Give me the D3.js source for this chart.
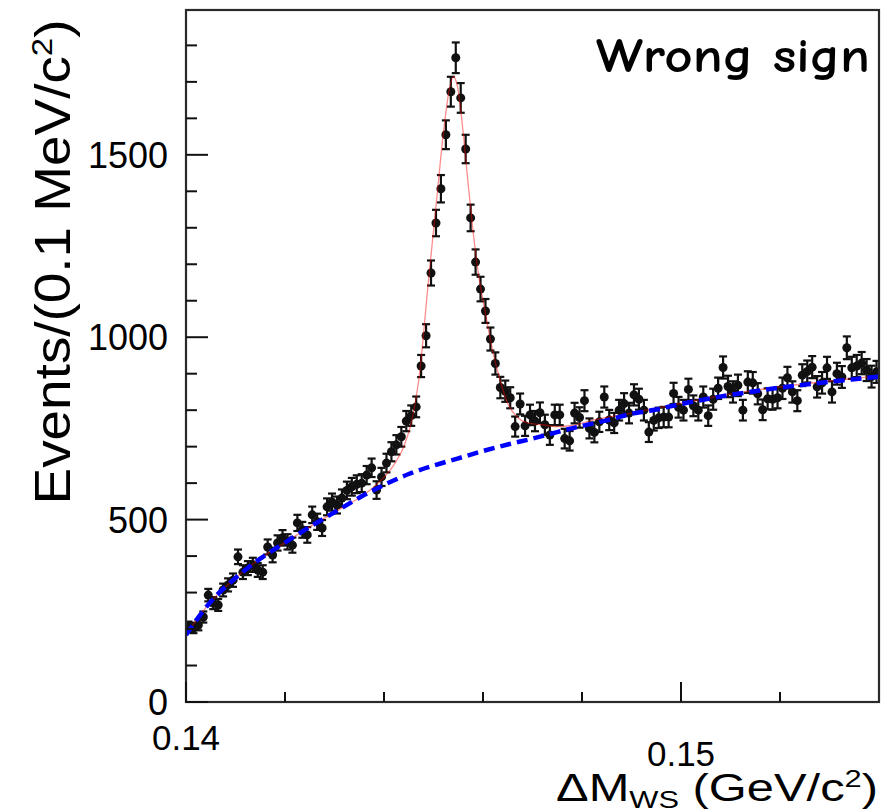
<!DOCTYPE html>
<html>
<head>
<meta charset="utf-8">
<script src="https://cdn.jsdelivr.net/npm/d3@7"></script>
<style>
    body { margin: 0; background: #fff; }
    svg { display: block; }
    text { font-family: "Liberation Sans", Arial, Helvetica, sans-serif; fill: #000; }
</style>
</head>
<body>
<div id="chart"></div>
<script>
// histogram: 0.1 MeV bins starting at 0.140 GeV
const binLow = 0.140;
const binWidth = 0.0001;
const counts = [
    206, 203, 211, 233, 293, 271, 266, 307, 321, 334,
    398, 356, 367, 376, 362, 356, 425, 403, 436, 450,
    439, 430, 491, 472, 458, 513, 494, 477, 535, 548,
    540, 559, 580, 590, 597, 600, 622, 642, 581, 617,
    655, 686, 705, 727, 770, 785, 809, 921, 1004, 1176,
    1313, 1407, 1555, 1673, 1766, 1656, 1516, 1327, 1206, 1132,
    1072, 995, 928, 862, 852, 834, 755, 817, 757, 787,
    770, 793, 760, 732, 787, 787, 722, 716, 792, 780,
    826, 750, 739, 768, 836, 773, 765, 800, 818, 792,
    842, 830, 800, 740, 772, 779, 781, 781, 846, 808,
    800, 857, 812, 800, 836, 785, 830, 860, 917, 865,
    850, 868, 800, 877, 875, 845, 801, 831, 830, 834,
    860, 889, 850, 826, 896, 906, 918, 864, 875, 916,
    850, 900, 891, 971, 916, 921, 929, 910, 892, 905
];

// background fit (blue dashed)
const bkgX = [0.1400, 0.1405, 0.1410, 0.1415, 0.1420, 0.1425, 0.1430, 0.1435, 0.1440, 0.1445,
              0.1450, 0.1455, 0.1460, 0.1465, 0.1470, 0.1475, 0.1480, 0.1485, 0.1490, 0.1495,
              0.1500, 0.1505, 0.1510, 0.1515, 0.1520, 0.1525, 0.1530, 0.1535, 0.1540];
const bkgY = [184, 275, 340, 393, 437, 480, 520, 560, 595, 625,
              648, 668, 688, 706, 722, 740, 757, 772, 790, 802,
              817, 830, 842, 852, 862, 870, 878, 885, 892];

// total fit (thin red line)
const fitX = [0.1400, 0.1405, 0.1410, 0.1415, 0.1420, 0.1425, 0.1430, 0.1435, 0.1438, 0.1442,
              0.1444, 0.14455, 0.1447, 0.1449, 0.14508, 0.1452, 0.14532, 0.1454, 0.14548, 0.1456,
              0.1457, 0.1458, 0.1459, 0.14603, 0.1462, 0.14635, 0.1465, 0.1467, 0.1469, 0.1472,
              0.1475, 0.1478, 0.1482, 0.1490, 0.1500, 0.1510, 0.1520, 0.1530, 0.1540];
const fitY = [184, 275, 340, 393, 437, 480, 520, 560, 590, 650,
              700, 765, 880, 1157, 1400, 1560, 1680, 1714, 1690, 1560,
              1420, 1290, 1180, 1080, 960, 880, 818, 780, 765, 760,
              755, 758, 772, 792, 819, 844, 864, 880, 894];

const xMajorTicks = [0.14, 0.15];
const xMinorTicks = [0.142, 0.144, 0.146, 0.148, 0.152];
const yMajorTicks = [0, 500, 1000, 1500];
const yMinorTicks = [100, 200, 300, 400, 600, 700, 800, 900, 1100, 1200, 1300, 1400, 1600, 1700, 1800];

const W = 895, H = 812;
const plot = {left: 186, right: 879, top: 10, bottom: 702};

const svg = d3.select("#chart").append("svg")
    .attr("width", W)
    .attr("height", H);

svg.append("rect").attr("width", W).attr("height", H).attr("fill", "#fff");

const x = d3.scaleLinear().domain([0.14, 0.154]).range([plot.left, plot.right]);
const y = d3.scaleLinear().domain([0, 1897]).range([plot.bottom, plot.top]);

// data points with sqrt(N) errors
const points = counts.map((c, i) => ({x: binLow + (i + 0.5) * binWidth, v: c, e: Math.sqrt(c)}));

svg.append("clipPath").attr("id", "clip")
    .append("rect")
    .attr("x", plot.left).attr("y", plot.top)
    .attr("width", plot.right - plot.left).attr("height", plot.bottom - plot.top);

const dataG = svg.append("g").attr("clip-path", "url(#clip)");

const bars = dataG.selectAll(".err")
    .data(points)
    .enter().append("g")
    .attr("class", "err")
    .attr("stroke", "#111")
    .attr("stroke-width", 2.2);

bars.append("line")
    .attr("x1", d => x(d.x)).attr("x2", d => x(d.x))
    .attr("y1", d => y(d.v - d.e)).attr("y2", d => y(d.v + d.e));
bars.append("line")
    .attr("x1", d => x(d.x) - 4).attr("x2", d => x(d.x) + 4)
    .attr("y1", d => y(d.v + d.e)).attr("y2", d => y(d.v + d.e));
bars.append("line")
    .attr("x1", d => x(d.x) - 4).attr("x2", d => x(d.x) + 4)
    .attr("y1", d => y(d.v - d.e)).attr("y2", d => y(d.v - d.e));

dataG.selectAll(".pt")
    .data(points)
    .enter().append("circle")
    .attr("class", "pt")
    .attr("cx", d => x(d.x))
    .attr("cy", d => y(d.v))
    .attr("r", 4.5)
    .attr("fill", "#111");

// total fit
const fitLine = d3.line()
    .x(d => x(d[0]))
    .y(d => y(d[1]))
    .curve(d3.curveMonotoneX);

dataG.append("path")
    .datum(fitX.map((v, i) => [v, fitY[i]]))
    .attr("d", fitLine)
    .attr("fill", "none")
    .attr("stroke", "#ff0000")
    .attr("stroke-opacity", 0.45)
    .attr("stroke-width", 1.3);

// background
dataG.append("path")
    .datum(bkgX.map((v, i) => [v, bkgY[i]]))
    .attr("d", fitLine)
    .attr("fill", "none")
    .attr("stroke", "#0000ff")
    .attr("stroke-width", 4.5)
    .attr("stroke-dasharray", "11,6");

// frame
svg.append("rect")
    .attr("x", plot.left).attr("y", plot.top)
    .attr("width", plot.right - plot.left).attr("height", plot.bottom - plot.top)
    .attr("fill", "none")
    .attr("stroke", "#2a2a2a")
    .attr("stroke-width", 2.2);

// ticks (inward)
const tickG = svg.append("g").attr("stroke", "#111").attr("stroke-width", 2);
tickG.selectAll(".ymaj").data(yMajorTicks).enter().append("line")
    .attr("x1", plot.left).attr("x2", plot.left + 22)
    .attr("y1", d => y(d)).attr("y2", d => y(d));
tickG.selectAll(".ymin").data(yMinorTicks).enter().append("line")
    .attr("x1", plot.left).attr("x2", plot.left + 11)
    .attr("y1", d => y(d)).attr("y2", d => y(d));
tickG.selectAll(".xmaj").data(xMajorTicks).enter().append("line")
    .attr("x1", d => x(d)).attr("x2", d => x(d))
    .attr("y1", plot.bottom).attr("y2", plot.bottom - 20);
tickG.selectAll(".xmin").data(xMinorTicks).enter().append("line")
    .attr("x1", d => x(d)).attr("x2", d => x(d))
    .attr("y1", plot.bottom).attr("y2", plot.bottom - 10);

// tick labels
svg.selectAll(".ylab").data(yMajorTicks).enter().append("text")
    .attr("x", 168)
    .attr("y", d => y(d))
    .attr("dy", "0.36em")
    .attr("text-anchor", "end")
    .style("font-size", "36px")
    .text(d => d);

svg.selectAll(".xlab").data(xMajorTicks).enter().append("text")
    .attr("x", d => x(d))
    .attr("y", (d, i) => i === 0 ? 750 : 766)
    .attr("text-anchor", "middle")
    .style("font-size", "35px")
    .text(d => d3.format(".2f")(d));

// axis titles
const yTitle = svg.append("text")
    .attr("text-anchor", "middle")
    .style("font-size", "50px");
yTitle.append("tspan").text("Events/(0.1 MeV/c");
yTitle.append("tspan").attr("dy", -18).style("font-size", "30px").text("2");
yTitle.append("tspan").attr("dy", 18).text(")");
let yLen = yTitle.node().getBBox().width;
yTitle.attr("transform", `translate(70, 262) rotate(-90) scale(${485 / yLen}, 1)`);

const xTitle = svg.append("text")
    .attr("text-anchor", "end")
    .style("font-size", "38px");
xTitle.append("tspan").text("\u0394M");
xTitle.append("tspan").attr("dy", 7).style("font-size", "24px").text("WS");
xTitle.append("tspan").attr("dy", -7).text(" (GeV/c");
xTitle.append("tspan").attr("dy", -14).style("font-size", "24px").text("2");
xTitle.append("tspan").attr("dy", 14).text(")");
let xLen = xTitle.node().getBBox().width;
xTitle.attr("transform", `translate(878, 801) scale(${322 / xLen}, 1)`);

// label in the corner
const tag = svg.append("text")
    .attr("text-anchor", "start")
    .style("font-family", "\"Comic Sans MS\", \"Comic Neue\", Lato, sans-serif")
    .style("font-size", "48px")
    .style("font-weight", "600")
    .text("Wrong sign");
let tagLen = tag.node().getBBox().width;
tag.attr("transform", `translate(596, 72) scale(${274 / tagLen}, 1)`);
</script>
</body>
</html>
